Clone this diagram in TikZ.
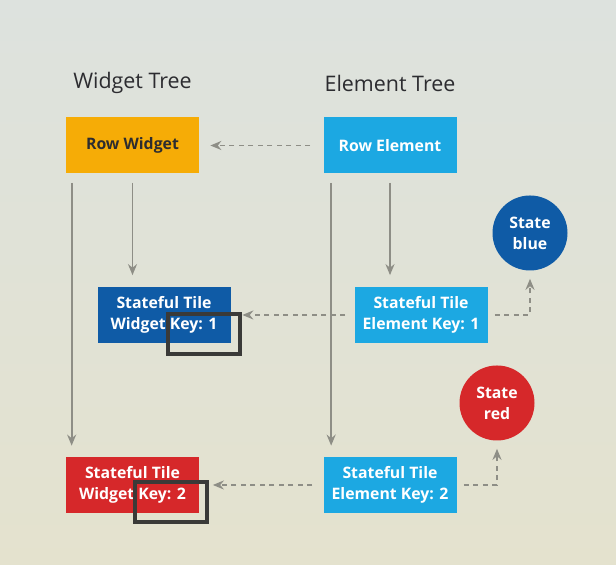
\documentclass[tikz,border=0pt]{standalone}
\usepackage{fontspec}
\setmainfont{Open Sans}
\usepackage{tikz}
\usetikzlibrary{arrows.meta,positioning}
\definecolor{bgtop}{HTML}{DDE2DE}
\definecolor{bgbot}{HTML}{E4E2CE}
\definecolor{gyellow}{HTML}{F6AC06}
\definecolor{gsky}{HTML}{1CA8E2}
\definecolor{gnavy}{HTML}{0F5BA6}
\definecolor{gred}{HTML}{D6282A}
\definecolor{linegray}{HTML}{8E8E86}
\definecolor{keydark}{HTML}{3A3A38}
\definecolor{titlegray}{HTML}{2C2C30}
\tikzset{
  treetitle/.style={font=\fontsize{12.2}{14}\selectfont,text=titlegray,inner sep=0pt},
  treebox/.style={rectangle,minimum width=2.66cm,minimum height=1.12cm,inner sep=0pt,align=center,
    font=\bfseries\fontsize{9}{12}\selectfont,text=white},
  widgetbox/.style={treebox},
  elembox/.style={treebox,fill=gsky},
  statenode/.style={circle,minimum size=1.5cm,inner sep=0pt,align=center,
    font=\bfseries\fontsize{9}{12}\selectfont,text=white},
  keybox/.style={rectangle,draw=keydark,line width=2.2pt,minimum width=1.44cm,minimum height=0.8cm,inner sep=0pt},
  treeedge/.style={-{Stealth[length=2.2mm,width=1.8mm]},line width=1pt,linegray},
  linkedge/.style={-{Stealth[length=2.2mm,width=1.8mm]},line width=1pt,linegray,dash pattern=on 2.8pt off 2.6pt},
}

\begin{document}
\begin{tikzpicture}
  \shade[top color=bgtop,bottom color=bgbot] (0,0) rectangle (12.32,11.30);
  \useasboundingbox (0,0) rectangle (12.32,11.30);

  \node[treetitle] (tWidget) at (2.65,9.64) {Widget Tree};
  \node[treetitle] (tElement) at (7.80,9.64) {Element Tree};

  \node[widgetbox,fill=gyellow,text=titlegray] (nRowW) at (2.65,8.39) {Row Widget};
  \node[elembox] (nRowE) at (7.80,8.39) {Row Element};
  \node[widgetbox,fill=gnavy] (nTileW1) at (3.28,5.00) {Stateful Tile\\Widget Key: 1};
  \node[elembox] (nTileE1) at (8.42,5.00) {Stateful Tile\\Element Key: 1};
  \node[widgetbox,fill=gred] (nTileW2) at (2.65,1.60) {Stateful Tile\\Widget Key: 2};
  \node[elembox] (nTileE2) at (7.80,1.60) {Stateful Tile\\Element Key: 2};

  \node[statenode,fill=gnavy] (sBlue) at (10.60,6.64) {State\\blue};
  \node[statenode,fill=gred] (sRed) at (9.94,3.24) {State\\red};

  \node[keybox] (kBox1) at (4.08,4.62) {};
  \node[keybox] (kBox2) at (3.42,1.26) {};

  % tree edges
  \draw[treeedge,shorten <=1.8mm,shorten >=2.2mm] ([xshift=1.2mm]nRowW.south west) -- ([xshift=1.2mm]nTileW2.north west);
  \draw[treeedge,shorten <=1.8mm,shorten >=2.3mm] (nRowW.south) -- (nRowW.south |- nTileW1.north);
  \draw[treeedge,shorten <=1.8mm,shorten >=2.2mm] ([xshift=1.6mm]nRowE.south west) -- ([xshift=1.6mm]nTileE2.north west);
  \draw[treeedge,shorten <=1.8mm,shorten >=2.3mm] (nRowE.south) -- (nRowE.south |- nTileE1.north);

  % element to widget links
  \draw[linkedge,shorten <=2.6mm,shorten >=2.2mm] (nRowE.west) -- (nRowW.east);
  \draw[linkedge,shorten <=1.8mm,shorten >=2.3mm] (nTileE1.west) -- (nTileW1.east);
  \draw[linkedge,shorten <=2.2mm,shorten >=2.7mm] (nTileE2.west) -- (nTileW2.east);

  % element to state links
  \draw[linkedge,shorten <=1.4mm,shorten >=1.6mm] (nTileE1.east) -| (sBlue.south);
  \draw[linkedge,shorten <=1.4mm,shorten >=1.6mm] (nTileE2.east) -| (sRed.south);
\end{tikzpicture}
\end{document}
